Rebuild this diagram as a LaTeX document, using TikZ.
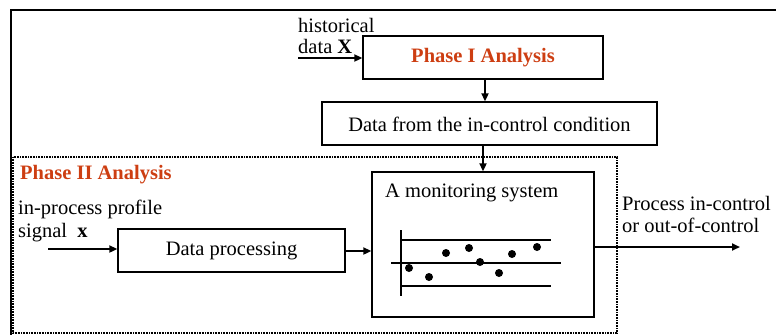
\documentclass[tikz,border=0pt]{standalone}
\usepackage{fontspec}
\setmainfont{Liberation Serif}
\usetikzlibrary{arrows.meta}
\definecolor{phasered}{RGB}{205,62,18}
\tikzset{
  x=1pt, y=-1pt,
  txt/.style={font=\fontsize{20.5}{23}\selectfont, inner sep=0pt},
  title/.style={txt, font=\fontsize{20.5}{23}\selectfont\bfseries, text=phasered},
  blk/.style={draw, line width=1.4pt, inner sep=0pt},
  flow/.style={line width=2pt, -{Triangle[length=8pt,width=7pt]}},
  chartline/.style={line width=1.2pt},
}
\begin{document}
\begin{tikzpicture}
\useasboundingbox (0,0) rectangle (776,335);
% outer frame (open to the right and bottom)
\draw[line width=2pt] (776,10) -- (11,10) -- (11,335);
% Phase II region
\draw[line width=1.8pt, dash pattern=on 1pt off 0.6pt] (13,157) rectangle (617,333);

% Phase I
\node[blk, minimum width=240pt, minimum height=43pt] (p1) at (483,57.5) {};
\node[title] (p1t) at (483,57.5) {Phase I Analysis};
\node[txt, anchor=base west] (hist) at (298,32) {historical};
\node[txt, anchor=base west] (hdata) at (298,53) {data \textbf{X}};
\coordinate (hin) at (298,58);
\draw[flow] (hin) -- (hin -| p1.west);

% in-control data
\node[blk, minimum width=335pt, minimum height=43pt] (ic) at (489.5,123.5) {};
\node[txt] (ict) at (489.5,124) {Data from the in-control condition};
\draw[flow] (p1.south -| 485,0) -- (ic.north -| 485,0);

% Phase II
\node[title, anchor=base west] (p2t) at (20,179) {Phase II Analysis};
\node[txt, anchor=base west] (ip) at (18,214) {in-process profile};
\node[txt, anchor=base west] (sig) at (18,237) {signal\ \ \textbf{x}};

\node[blk, minimum width=227pt, minimum height=43pt] (dp) at (231.5,250.5) {};
\node[txt] (dpt) at (231.5,250.5) {Data processing};
\coordinate (xin) at (48,249);
\draw[flow] (xin) -- (xin -| dp.west);

% monitoring system
\node[blk, minimum width=222pt, minimum height=145pt] (ms) at (483,244.5) {};
\node[txt, anchor=base west] (mst) at (385,197) {A monitoring system};
\draw[flow] (ic.south -| 483,0) -- (ms.north -| 483,0);
\draw[flow] (dp.east |- 0,251) -- (ms.west |- 0,251);

% control chart
\draw[chartline] (401,230) -- (401,296);
\draw[chartline] (401,240) -- (551,240);
\draw[chartline] (391,263) -- (561,263);
\draw[chartline] (401,286) -- (551,286);
\foreach \px/\py in {409/268, 429/277, 446/253, 469/248, 480/262, 499/273, 512/254, 537/247}
  \fill (\px,\py) circle (4pt);

% output
\coordinate (out) at (740,247);
\draw[flow] (ms.east |- out) -- (out);
\node[txt, anchor=base west] (o1) at (622,210) {Process in-control};
\node[txt, anchor=base west] (o2) at (622,232) {or out-of-control};
\end{tikzpicture}
\end{document}
